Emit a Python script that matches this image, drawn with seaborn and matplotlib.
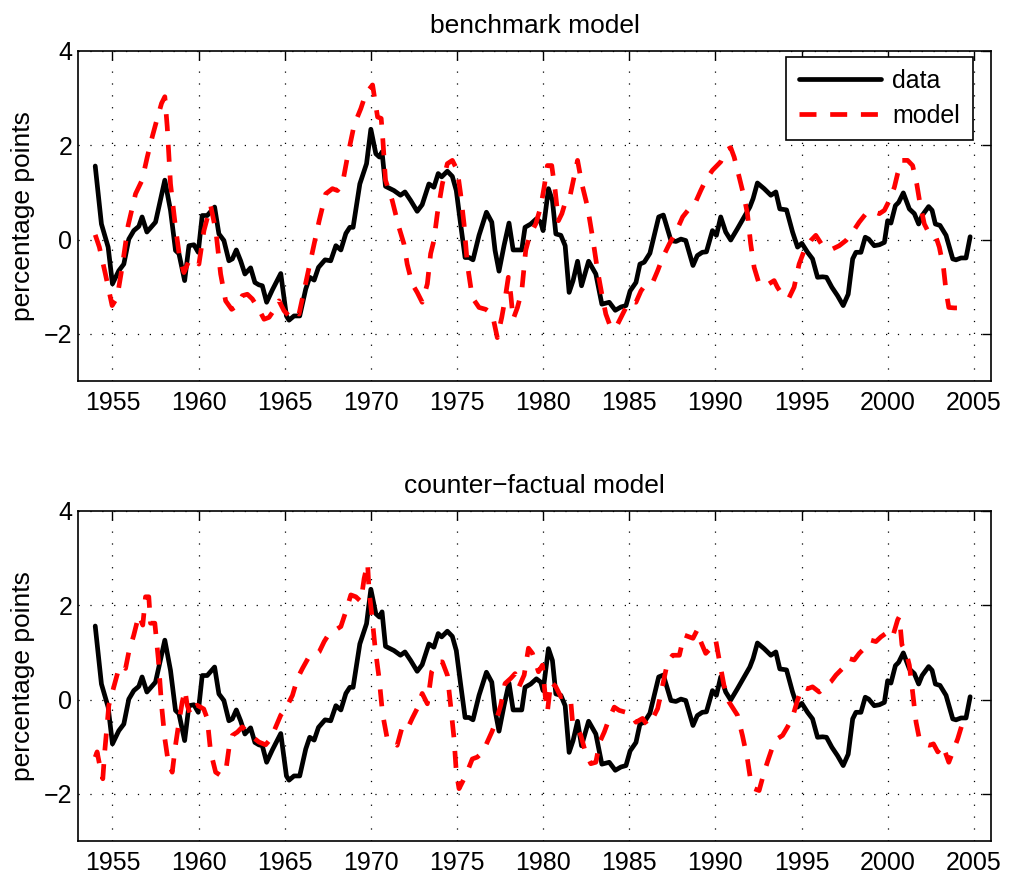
import numpy as np
import pandas as pd
import matplotlib
matplotlib.use("Agg")
import matplotlib.pyplot as plt
import seaborn as sns

# ---------------- data (vertices) ----------------
data_years = [1954.0, 1954.36, 1954.75, 1955.0, 1955.37, 1955.66, 1955.95, 1956.24, 1956.53, 1956.72,
              1957.0, 1957.5, 1958.04, 1958.37, 1958.66, 1958.86, 1959.19, 1959.44, 1959.73, 1959.98,
              1960.21, 1960.5, 1960.93, 1961.18, 1961.47, 1961.76, 1961.96, 1962.19, 1962.44, 1962.69,
              1963.02, 1963.27, 1963.5, 1963.7, 1963.95, 1964.28, 1964.77, 1965.1, 1965.25, 1965.54,
              1965.87, 1966.22, 1966.45, 1966.71, 1966.96, 1967.34, 1967.67, 1967.97, 1968.26, 1968.55,
              1968.78, 1968.97, 1969.36, 1969.75, 1970.0, 1970.29, 1970.5, 1970.65, 1970.85, 1971.34,
              1971.72, 1971.98, 1972.31, 1972.69, 1972.98, 1973.37, 1973.66, 1973.91, 1974.11, 1974.44,
              1974.73, 1974.96, 1975.21, 1975.47, 1975.7, 1975.93, 1976.28, 1976.71, 1977.02, 1977.21,
              1977.44, 1977.73, 1978.02, 1978.26, 1978.76, 1978.95, 1979.28, 1979.61, 1979.86, 1980.0,
              1980.31, 1980.54, 1980.74, 1981.03, 1981.28, 1981.51, 1981.74, 1982.0, 1982.23, 1982.64,
              1983.06, 1983.41, 1983.84, 1984.19, 1984.52, 1984.81, 1985.05, 1985.39, 1985.62, 1985.87,
              1986.2, 1986.45, 1986.71, 1986.98, 1987.42, 1987.71, 1988.0, 1988.28, 1988.7, 1988.95,
              1989.24, 1989.48, 1989.83, 1990.06, 1990.31, 1990.6, 1990.89, 1991.28, 1991.67, 1992.0,
              1992.19, 1992.44, 1992.83, 1993.22, 1993.51, 1993.74, 1994.13, 1994.48, 1994.77, 1995.02,
              1995.35, 1995.64, 1995.93, 1996.22, 1996.45, 1996.76, 1997.09, 1997.42, 1997.71, 1997.97,
              1998.16, 1998.45, 1998.7, 1998.9, 1999.22, 1999.52, 1999.81, 2000.0, 2000.19, 2000.45,
              2000.64, 2000.91, 2001.26, 2001.55, 2001.8, 2002.0, 2002.38, 2002.58, 2002.77, 2003.04,
              2003.39, 2003.78, 2003.97, 2004.26, 2004.55, 2004.79]
data_vals = [1.56, 0.33, -0.16, -0.94, -0.66, -0.52, 0.01, 0.19, 0.28, 0.48,
             0.16, 0.37, 1.26, 0.62, -0.23, -0.30, -0.87, -0.13, -0.11, -0.27,
             0.51, 0.51, 0.69, 0.12, -0.02, -0.45, -0.41, -0.22, -0.45, -0.73,
             -0.60, -0.91, -0.96, -0.98, -1.33, -1.07, -0.72, -1.62, -1.71, -1.62,
             -1.62, -1.05, -0.80, -0.86, -0.59, -0.43, -0.45, -0.13, -0.22, 0.13,
             0.26, 0.26, 1.18, 1.61, 2.34, 1.82, 1.75, 1.86, 1.13, 1.04,
             0.94, 1.01, 0.83, 0.60, 0.74, 1.18, 1.11, 1.40, 1.33, 1.45,
             1.34, 1.04, 0.33, -0.38, -0.38, -0.43, 0.09, 0.58, 0.37, -0.23,
             -0.67, -0.13, 0.35, -0.22, -0.22, 0.26, 0.33, 0.44, 0.37, 0.19,
             1.08, 0.83, 0.12, 0.09, -0.13, -1.12, -0.87, -0.46, -0.98, -0.46,
             -0.73, -1.37, -1.33, -1.50, -1.43, -1.40, -1.09, -0.91, -0.52, -0.48,
             -0.29, 0.09, 0.48, 0.52, -0.02, -0.04, 0.01, -0.02, -0.55, -0.34,
             -0.27, -0.26, 0.19, 0.09, 0.48, 0.16, -0.01, 0.23, 0.48, 0.69,
             0.87, 1.20, 1.08, 0.94, 1.01, 0.65, 0.63, 0.16, -0.16, -0.08,
             -0.27, -0.41, -0.80, -0.79, -0.80, -1.01, -1.19, -1.40, -1.16, -0.41,
             -0.27, -0.27, 0.05, 0.01, -0.13, -0.11, -0.06, 0.40, 0.35, 0.72,
             0.79, 0.99, 0.65, 0.55, 0.33, 0.51, 0.70, 0.62, 0.33, 0.30,
             0.09, -0.41, -0.43, -0.39, -0.39, 0.06]

bench_years = [1954.0, 1954.24, 1954.59, 1954.98, 1955.27, 1955.56, 1955.91, 1956.34, 1956.72, 1957.02,
               1957.31, 1957.6, 1957.85, 1958.04, 1958.18, 1958.37, 1958.66, 1958.9, 1959.15, 1959.44,
               1959.73, 1960.02, 1960.31, 1960.7, 1961.0, 1961.28, 1961.57, 1961.92, 1962.25, 1962.54,
               1962.83, 1963.12, 1963.5, 1963.8, 1964.09, 1964.48, 1964.67, 1964.96, 1965.25, 1965.54,
               1965.83, 1966.12, 1966.41, 1966.71, 1967.0, 1967.38, 1967.77, 1968.06, 1968.35, 1968.64,
               1969.03, 1969.42, 1969.71, 1970.1, 1970.39, 1970.6, 1970.7, 1970.85, 1971.24, 1971.63,
               1971.92, 1972.11, 1972.4, 1972.69, 1972.98, 1973.28, 1973.47, 1973.66, 1973.86, 1974.15,
               1974.44, 1974.73, 1975.02, 1975.21, 1975.41, 1975.6, 1975.89, 1976.28, 1976.67, 1977.05,
               1977.34, 1977.6, 1977.79, 1977.98, 1978.12, 1978.26, 1978.51, 1978.76, 1978.99, 1979.22,
               1979.57, 1979.86, 1980.06, 1980.25, 1980.5, 1980.7, 1980.89, 1981.09, 1981.32, 1981.55,
               1981.8, 1982.0, 1982.25, 1982.58, 1982.87, 1983.16, 1983.41, 1983.64, 1983.93, 1984.22,
               1984.52, 1984.81, 1985.1, 1985.39, 1985.68, 1985.97, 1986.36, 1986.65, 1986.94, 1987.33,
               1987.71, 1988.1, 1988.47, 1988.76, 1989.15, 1989.44, 1989.83, 1990.31, 1990.6, 1990.89,
               1991.09, 1991.38, 1991.67, 1991.86, 1992.05, 1992.25, 1992.54, 1992.93, 1993.41, 1993.6,
               1993.99, 1994.28, 1994.57, 1994.86, 1995.16, 1995.54, 1995.83, 1996.22, 1996.51, 1996.8,
               1997.19, 1997.58, 1997.97, 1998.35, 1998.74, 1999.13, 1999.52, 1999.81, 2000.1, 2000.39,
               2000.58, 2000.83, 2001.16, 2001.45, 2001.69, 2001.88, 2002.13, 2002.42, 2002.81, 2003.0,
               2003.24, 2003.39, 2003.55, 2003.88, 2004.26, 2004.79]
bench_vals = [0.10, -0.16, -0.73, -1.40, -1.23, -0.59, 0.30, 0.97, 1.26, 1.75,
              2.18, 2.57, 2.89, 3.03, 2.39, 1.18, 0.26, -0.38, -0.70, -0.45,
              -0.41, -0.52, 0.19, 0.72, 0.19, -0.73, -1.30, -1.48, -1.40, -1.19,
              -1.16, -1.26, -1.48, -1.69, -1.65, -1.44, -1.30, -1.51, -1.62, -1.51,
              -1.58, -1.09, -0.59, -0.09, 0.40, 0.97, 1.08, 1.04, 1.18, 1.75,
              2.43, 2.78, 3.10, 3.28, 2.60, 2.57, 2.10, 1.26, 0.83, 0.26,
              -0.09, -0.52, -0.94, -1.12, -1.33, -0.94, -0.30, -0.02, 0.55, 1.18,
              1.61, 1.68, 1.47, 0.97, 0.33, -0.52, -1.23, -1.44, -1.48, -1.58,
              -2.08, -1.65, -1.26, -0.80, -1.16, -1.69, -1.44, -1.09, -0.23, 0.09,
              0.33, 0.69, 1.11, 1.57, 1.57, 1.04, 0.40, 0.55, 0.83, 0.90,
              1.33, 1.68, 1.18, 0.69, 0.05, -0.66, -1.16, -1.58, -1.87, -1.87,
              -1.65, -1.44, -1.30, -1.33, -1.09, -0.94, -0.91, -0.66, -0.38, -0.09,
              0.16, 0.48, 0.65, 0.72, 1.04, 1.26, 1.47, 1.65, 1.89, 1.95,
              1.75, 1.33, 0.90, 0.55, -0.09, -0.59, -0.94, -0.98, -0.87, -1.01,
              -1.23, -1.23, -1.01, -0.52, -0.23, -0.02, 0.09, -0.13, -0.16, -0.20,
              -0.13, -0.02, 0.16, 0.37, 0.55, 0.60, 0.55, 0.62, 0.83, 1.11,
              1.40, 1.68, 1.68, 1.57, 1.18, 0.76, 0.33, 0.12, 0.05, -0.16,
              -0.59, -1.09, -1.44, -1.45, -1.45, -1.45]

cf_years = [1954.0, 1954.11, 1954.3, 1954.44, 1954.55, 1954.79, 1955.08, 1955.37, 1955.56, 1955.76,
            1955.95, 1956.24, 1956.53, 1956.76, 1956.92, 1957.11, 1957.21, 1957.46, 1957.66, 1957.85,
            1958.04, 1958.24, 1958.47, 1958.66, 1958.86, 1959.05, 1959.21, 1959.34, 1959.53, 1959.73,
            1959.92, 1960.3, 1960.5, 1960.7, 1960.99, 1961.28, 1961.57, 1961.76, 1961.96, 1962.25,
            1962.54, 1962.83, 1963.12, 1963.5, 1963.89, 1964.19, 1964.48, 1964.77, 1965.06, 1965.45,
            1965.74, 1966.03, 1966.41, 1966.71, 1967.0, 1967.29, 1967.58, 1967.97, 1968.26, 1968.55,
            1968.84, 1969.13, 1969.42, 1969.61, 1969.81, 1969.9, 1970.06, 1970.25, 1970.48, 1970.68,
            1970.95, 1971.24, 1971.53, 1971.82, 1972.11, 1972.4, 1972.69, 1972.98, 1973.28, 1973.53,
            1973.86, 1974.15, 1974.44, 1974.63, 1974.83, 1974.96, 1975.12, 1975.41, 1975.66, 1975.89,
            1976.18, 1976.51, 1976.76, 1977.02, 1977.25, 1977.54, 1977.79, 1978.12, 1978.37, 1978.6,
            1978.9, 1979.15, 1979.38, 1979.73, 1979.96, 1980.12, 1980.25, 1980.45, 1980.74, 1981.03,
            1981.32, 1981.61, 1981.71, 1981.94, 1982.19, 1982.48, 1982.77, 1983.06, 1983.29, 1983.55,
            1983.84, 1984.13, 1984.42, 1984.71, 1985.1, 1985.39, 1985.77, 1986.07, 1986.36, 1986.65,
            1986.94, 1987.23, 1987.52, 1987.91, 1988.18, 1988.47, 1988.7, 1988.95, 1989.15, 1989.44,
            1989.73, 1990.02, 1990.21, 1990.5, 1990.79, 1991.28, 1991.57, 1991.86, 1992.05, 1992.25,
            1992.54, 1992.83, 1993.08, 1993.35, 1993.6, 1993.9, 1994.19, 1994.48, 1994.77, 1995.06,
            1995.35, 1995.64, 1996.03, 1996.41, 1996.71, 1997.0, 1997.38, 1997.77, 1998.06, 1998.35,
            1998.74, 1999.03, 1999.32, 1999.61, 2000.0, 2000.29, 2000.58, 2000.68, 2000.83, 2001.07,
            2001.26, 2001.45, 2001.65, 2001.84, 2002.13, 2002.42, 2002.66, 2002.91, 2003.2, 2003.55,
            2003.78, 2004.07, 2004.36, 2004.65]
cf_vals = [-1.22, -1.11, -1.47, -1.68, -1.11, -0.12, 0.27, 0.66, 0.73, 0.66,
           1.01, 1.37, 1.79, 1.58, 2.18, 2.18, 1.62, 1.62, 0.87, -0.12,
           -0.83, -1.33, -1.54, -0.97, -0.48, -0.05, 0.20, -0.12, -0.33, -0.16,
           -0.12, -0.20, -0.40, -1.11, -1.54, -1.61, -1.54, -1.04, -0.76, -0.69,
           -0.58, -0.69, -0.79, -0.90, -0.96, -0.83, -0.58, -0.33, -0.19, 0.09,
           0.45, 0.66, 0.91, 0.94, 1.01, 1.23, 1.40, 1.48, 1.55, 1.87,
           2.22, 2.18, 2.08, 2.57, 2.89, 2.29, 1.79, 1.09, 0.45, -0.30,
           -0.83, -0.87, -0.97, -0.58, -0.63, -0.40, -0.19, 0.13, -0.09, 0.59,
           0.80, 0.80, 0.52, -0.12, -0.83, -1.54, -1.89, -1.68, -1.47, -1.26,
           -1.22, -1.11, -0.90, -0.69, -0.48, -0.12, 0.34, 0.45, 0.55, 0.27,
           0.52, 1.09, 0.98, 0.59, 0.73, 0.09, -0.26, 0.38, 0.27, 0.06,
           0.09, -0.05, -0.48, -0.58, -0.76, -1.15, -1.36, -1.33, -0.90, -0.69,
           -0.40, -0.16, -0.23, -0.26, -0.30, -0.48, -0.40, -0.55, -0.40, -0.19,
           0.30, 0.80, 0.94, 0.94, 1.37, 1.33, 1.30, 1.48, 1.23, 0.98,
           1.09, 1.26, 0.87, 0.30, -0.05, -0.33, -0.76, -1.26, -1.72, -1.89,
           -1.93, -1.54, -1.26, -0.97, -0.83, -0.76, -0.58, -0.37, -0.01, 0.27,
           0.23, 0.27, 0.16, 0.30, 0.38, 0.52, 0.66, 0.87, 0.84, 0.98,
           1.12, 1.26, 1.23, 1.33, 1.43, 1.33, 1.69, 1.76, 1.16, 1.01,
           0.73, 0.16, -0.48, -0.83, -0.94, -0.97, -0.94, -1.11, -0.97, -1.33,
           -1.11, -0.83, -0.48, -0.37]

titles = ["benchmark model", "counter\u2212factual model"]
ylabel = "percentage points"
legend_labels = ["data", "model"]
xticks = [1955, 1960, 1965, 1970, 1975, 1980, 1985, 1990, 1995, 2000, 2005]
yticks = [-2, 0, 2, 4]

# ---------------- style ----------------
sns.set_style("white")
plt.rcParams["font.family"] = ["Liberation Sans", "DejaVu Sans"]
plt.rcParams["axes.unicode_minus"] = True
plt.rcParams["text.color"] = "black"
plt.rcParams["axes.labelcolor"] = "black"
plt.rcParams["xtick.color"] = "black"
plt.rcParams["ytick.color"] = "black"

W, H = 1009, 882
fig = plt.figure(figsize=(W / 100, H / 100), dpi=100)

def px_axes(left, top, right, bottom):
    return fig.add_axes([left / W, 1 - bottom / H, (right - left) / W, (bottom - top) / H])

axes = [px_axes(78, 51, 991, 381), px_axes(78, 511, 991, 841)]
models = [(bench_years, bench_vals), (cf_years, cf_vals)]

df_data = pd.DataFrame({"year": data_years, "value": data_vals})

for i, ax in enumerate(axes):
    my, mv = models[i]
    df_model = pd.DataFrame({"year": my, "value": mv})
    sns.lineplot(data=df_data, x="year", y="value", ax=ax, color="black",
                 lw=3.4, sort=False, estimator=None, label=legend_labels[0])
    sns.lineplot(data=df_model, x="year", y="value", ax=ax, color="#ff0000",
                 lw=3.4, sort=False, estimator=None, label=legend_labels[1],
                 linestyle=(0, (3.6, 2.9)))
    ax.set_xlim(1953, 2006)
    ax.set_ylim(-3, 4)
    ax.set_xticks(xticks)
    ax.set_yticks(yticks)
    ax.set_xlabel("")
    ax.set_ylabel(ylabel, fontsize=19, color="black")
    ax.yaxis.set_label_coords(-0.047, 0.5)
    ax.set_title(titles[i], fontsize=19, pad=13, color="black")
    ax.tick_params(axis="both", which="major", direction="in", length=6.5, width=1.0,
                   top=True, right=True, labelsize=18, colors="black")
    ax.tick_params(axis="x", pad=7)
    ax.tick_params(axis="y", pad=4)
    ax.grid(True, which="major", color="black", lw=0.9, linestyle=(0, (1, 8.5)))
    for s in ax.spines.values():
        s.set_visible(True)
        s.set_color("black")
        s.set_linewidth(1.2)
    if i == 0:
        lines = ax.get_lines()[:2]
        leg = ax.legend(lines, legend_labels, loc="upper right",
                        bbox_to_anchor=(0.980, 0.983), borderaxespad=0,
                        fontsize=18, frameon=True, fancybox=False, framealpha=1,
                        edgecolor="black", handlelength=3.3, handletextpad=0.45,
                        labelspacing=0.42, borderpad=0.5)
        leg.get_frame().set_linewidth(1.2)
        for t in leg.get_texts():
            t.set_color("black")
    else:
        lg = ax.get_legend()
        if lg is not None:
            lg.remove()

fig.savefig("out.png", dpi=100)
